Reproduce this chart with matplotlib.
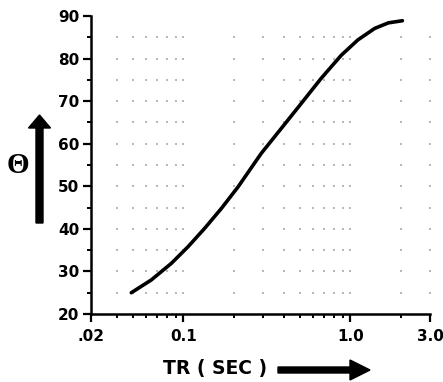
import matplotlib

matplotlib.use("Agg")

import matplotlib.pyplot as plt
import numpy as np
from matplotlib.patches import FancyArrow
from matplotlib.ticker import FixedLocator, NullFormatter

# curve (TR in seconds, theta in degrees)
tr_sec = [0.0488, 0.0643, 0.0848, 0.1067, 0.134, 0.169, 0.213, 0.293,
          0.386, 0.509, 0.670, 0.883, 1.11, 1.40, 1.69, 2.05]
theta = [25.0, 28.0, 31.9, 35.8, 40.1, 44.8, 49.9, 57.75,
         63.6, 69.5, 75.4, 80.8, 84.4, 87.1, 88.4, 88.9]

x_major = [0.028, 0.1, 1.0, 3.0]
x_major_labels = [".02", "0.1", "1.0", "3.0"]
x_minor = [0.04, 0.05, 0.06, 0.07, 0.08, 0.09,
           0.2, 0.3, 0.4, 0.5, 0.6, 0.7, 0.8, 0.9, 2.0]
y_major = [20, 30, 40, 50, 60, 70, 80, 90]
y_minor = [25, 35, 45, 55, 65, 75, 85]

fig = plt.figure(figsize=(4.43, 3.82), dpi=100)
ax = fig.add_axes([0.2054, 0.178, 0.7653, 0.780])

# faint dotted grid at tick intersections
grid_x = x_minor + [0.1, 1.0, 3.0]
grid_y = [25, 30, 35, 40, 45, 50, 55, 60, 65, 70, 75, 80, 85]
gx, gy = np.meshgrid(grid_x, grid_y)
ax.scatter(gx.ravel(), gy.ravel(), s=0.9, marker="s", color="#b8b8b8",
           linewidths=0, zorder=1, clip_on=False)

ax.plot(tr_sec, theta, color="black", lw=2.6, solid_capstyle="round",
        solid_joinstyle="round", zorder=3)

ax.set_xscale("log")
ax.set_xlim(0.028, 3.0)
ax.set_ylim(20, 90)

ax.xaxis.set_major_locator(FixedLocator(x_major))
ax.xaxis.set_minor_locator(FixedLocator(x_minor))
ax.xaxis.set_minor_formatter(NullFormatter())
ax.set_xticklabels(x_major_labels)
ax.yaxis.set_major_locator(FixedLocator(y_major))
ax.yaxis.set_minor_locator(FixedLocator(y_minor))

for side in ("top", "right"):
    ax.spines[side].set_visible(False)
for side in ("left", "bottom"):
    ax.spines[side].set_linewidth(1.8)

ax.tick_params(which="major", direction="out", length=5.5, width=1.6,
               labelsize=11, pad=3)
ax.tick_params(axis="x", which="major", pad=5)
ax.tick_params(which="minor", direction="out", length=3, width=1.4)
for lab in ax.get_xticklabels() + ax.get_yticklabels():
    lab.set_fontweight("bold")
    lab.set_family("DejaVu Sans")

# axis titles with arrows, placed in figure space
fig.text(0.040, 0.568, "\u0398", ha="center", va="center",
         fontsize=21, fontweight="bold", family="Liberation Serif")
fig.add_artist(FancyArrow(0.395, 1.59, 0, 1.08, width=0.07, head_width=0.22,
                          head_length=0.13, length_includes_head=True,
                          color="black", transform=fig.dpi_scale_trans))

fig.text(0.485, 0.036, "TR ( SEC )", ha="center", va="center",
         fontsize=13.5, fontweight="bold", family="DejaVu Sans")
fig.add_artist(FancyArrow(2.78, 0.12, 0.92, 0, width=0.06, head_width=0.20,
                          head_length=0.20, length_includes_head=True,
                          color="black", transform=fig.dpi_scale_trans))

fig.savefig("out.png", dpi=100)
